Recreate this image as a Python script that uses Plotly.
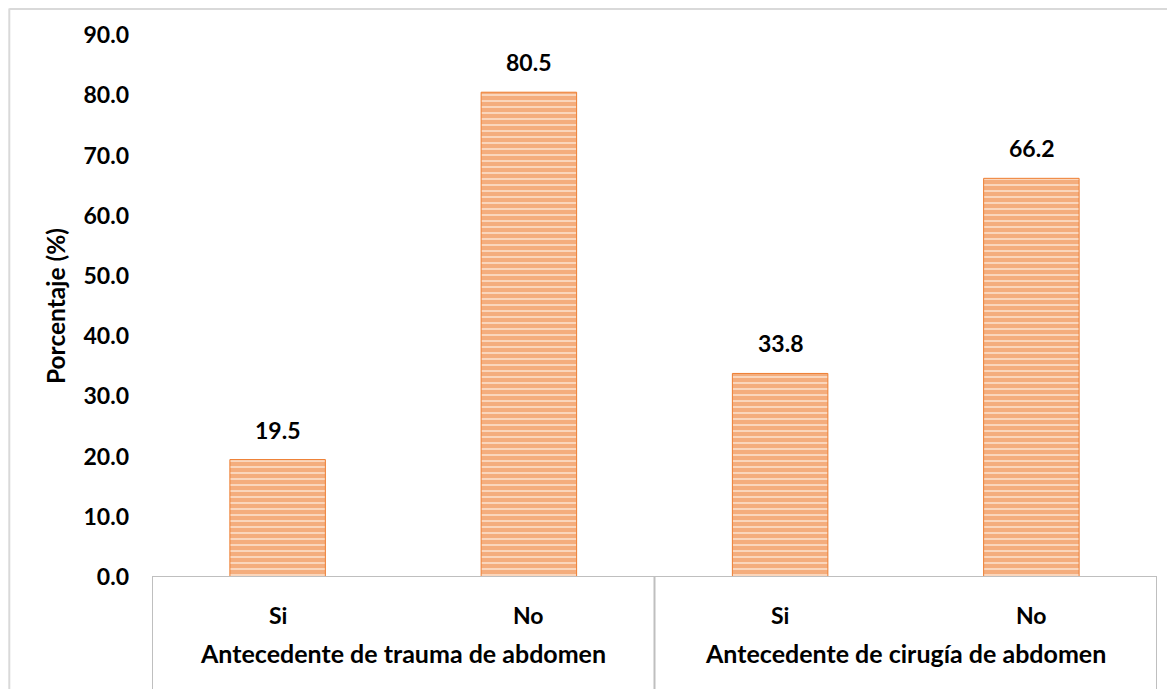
import plotly.graph_objects as go

groups = ["Antecedente de trauma de abdomen", "Antecedente de trauma de abdomen",
          "Antecedente de cirugía de abdomen", "Antecedente de cirugía de abdomen"]
answers = ["Si", "No", "Si", "No"]
values = [19.5, 80.5, 33.8, 66.2]
y_ticks = [0, 10, 20, 30, 40, 50, 60, 70, 80, 90]
group_names = ["Antecedente de trauma de abdomen", "Antecedente de cirugía de abdomen"]

cats = list(range(len(values)))
FONT = "Lato"
ORANGE = "#ED7D31"
GRID = "#BFBFBF"
FS = 23

fig = go.Figure()
fig.add_trace(go.Bar(
    x=cats, y=values,
    width=0.38,
    marker=dict(
        color="#FADBC4",
        line=dict(color=ORANGE, width=1),
        pattern=dict(shape="-", fgcolor=ORANGE, bgcolor="#FBDDC8", size=6, solidity=0.72, fillmode="overlay"),
    ),
    hoverinfo="skip",
))

# data labels
for c, v in zip(cats, values):
    fig.add_annotation(x=c, y=v, xref="x", yref="y", yanchor="bottom", yshift=14,
                       text=f"{v:.1f}", showarrow=False,
                       font=dict(family=FONT, size=FS, color="black", weight="bold"))

fig.update_layout(
    width=1175, height=689,
    margin=dict(l=144, r=26, t=27, b=120),
    plot_bgcolor="white", paper_bgcolor="white",
    showlegend=False,
    font=dict(family=FONT, color="black"),
    xaxis=dict(
        range=[-0.5, 3.5], showticklabels=False, showgrid=False, zeroline=False,
        showline=False, ticks="", tickvals=cats,
    ),
    yaxis=dict(
        range=[0, 90], tickvals=y_ticks, ticktext=[f"{t:.1f}" for t in y_ticks],
        showgrid=False, zeroline=False, showline=False, ticks="",
        tickfont=dict(family=FONT, size=FS, color="black", weight="bold"),
        ticklabelstandoff=22,
        title=dict(text="Porcentaje (%)", font=dict(family=FONT, size=24.5, color="black", weight="bold"), standoff=10),
    ),
)

# axis line and dividers
fig.add_shape(type="line", xref="x", yref="y", x0=-0.5, x1=3.5, y0=0, y1=0,
              line=dict(color=GRID, width=2), layer="above")
for xd in [-0.5, 1.5, 3.5]:
    fig.add_shape(type="line", xref="x", yref="paper", x0=xd, x1=xd, y0=0, y1=-0.23,
                  line=dict(color=GRID, width=2))

# category labels
for c, a in zip(cats, answers):
    fig.add_annotation(x=c, y=-0.071, xref="x", yref="paper", yanchor="middle",
                       text=a, showarrow=False,
                       font=dict(family=FONT, size=FS, color="black", weight="bold"))
# group labels
for gi, g in enumerate(group_names):
    fig.add_annotation(x=gi * 2 + 0.5, y=-0.14, xref="x", yref="paper", yanchor="middle",
                       text=g, showarrow=False,
                       font=dict(family=FONT, size=25, color="black", weight="bold"))

# outer frame
fig.add_shape(type="line", xref="paper", yref="paper", x0=-0.142, x1=-0.142, y0=-0.23, y1=1.049,
              line=dict(color="#D9D9D9", width=2))
fig.add_shape(type="line", xref="paper", yref="paper", x0=-0.142, x1=1.03, y0=1.048, y1=1.048,
              line=dict(color="#D9D9D9", width=2))

fig.write_html("out.html")
